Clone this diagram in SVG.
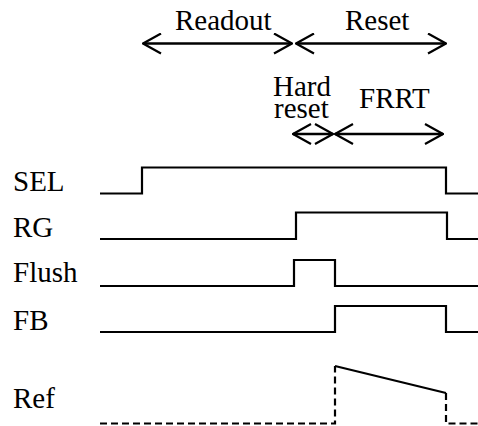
<svg xmlns="http://www.w3.org/2000/svg" width="478" height="426" viewBox="0 0 478 426">
<defs>
<marker id="ah" viewBox="0 0 20 22" refX="19" refY="11" markerWidth="20" markerHeight="22" markerUnits="userSpaceOnUse" orient="auto-start-reverse">
<path d="M1,1 L19,11 L1,21" fill="none" stroke="#000" stroke-width="2.2"/>
</marker>
<style>
text{font-family:"Liberation Serif","DejaVu Serif",serif;font-size:29px;fill:#000}
.sig{fill:none;stroke:#000;stroke-width:2.2}
.dash{stroke-dasharray:7 4}
.arr{fill:none;stroke:#000;stroke-width:2.4;marker-start:url(#ah);marker-end:url(#ah)}
</style>
</defs>
<rect width="478" height="426" fill="#fff"/>
<g id="phases">
<text x="175" y="30">Readout</text>
<text x="345" y="30">Reset</text>
<text><tspan x="273" y="96">Hard</tspan><tspan x="274" y="118">reset</tspan></text>
<text x="359" y="108">FRRT</text>
</g>
<g id="connectors">
<line class="arr" x1="143" y1="43.5" x2="292" y2="43.5"/>
<line class="arr" x1="296" y1="43.5" x2="446" y2="43.5"/>
<line class="arr" x1="293" y1="134" x2="333" y2="134"/>
<line class="arr" x1="335" y1="134" x2="443" y2="134"/>
</g>
<g id="SEL">
<text x="13" y="191">SEL</text>
<polyline class="sig" points="100,193.5 142,193.5 142,167.5 446,167.5 446,193.5 478,193.5"/>
</g>
<g id="RG">
<text x="13" y="237">RG</text>
<polyline class="sig" points="100,239 296,239 296,212.5 447,212.5 447,239 478,239"/>
</g>
<g id="Flush">
<text x="13" y="282">Flush</text>
<polyline class="sig" points="100,286 294,286 294,260 335,260 335,286 478,286"/>
</g>
<g id="FB">
<text x="13" y="330">FB</text>
<polyline class="sig" points="100,332 335,332 335,306 446,306 446,332 478,332"/>
</g>
<g id="Ref">
<text x="13" y="408">Ref</text>
<polyline class="sig dash" points="100,423.5 335,423.5 335,366"/>
<line class="sig" x1="335" y1="366" x2="446" y2="393"/>
<polyline class="sig dash" points="446,393 446,423.5 478,423.5"/>
</g>
</svg>
